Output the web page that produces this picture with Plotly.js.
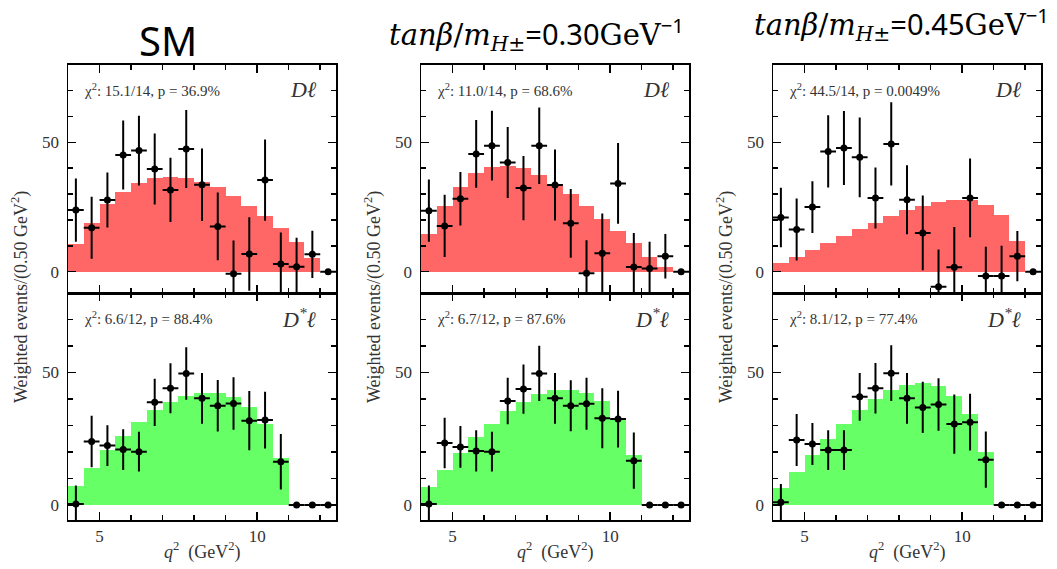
<!DOCTYPE html>
<html><head><meta charset="utf-8">
<script src="https://cdn.plot.ly/plotly-3.0.1.min.js"></script>
<style>html,body{margin:0;padding:0;background:#fff;}#chart{width:1057px;height:569px;}</style>
</head><body><div id="chart"></div>
<script>
// q^2 bin centres (GeV^2), bin width 0.50 GeV^2
const q2 = [4.25,4.75,5.25,5.75,6.25,6.75,7.25,7.75,8.25,8.75,9.25,9.75,10.25,10.75,11.25,11.75,12.25];
const binHalfWidth = [0.25,0.25,0.25,0.25,0.25,0.25,0.25,0.25,0.25,0.25,0.25,0.25,0.25,0.25,0.25,0.25,0.25];

// SM
const smDlData  = [23.8,17.0,27.7,45.1,46.8,39.7,31.6,47.4,33.6,17.5,-0.8,6.8,35.4,3.0,1.9,6.7,0];
const smDlErr   = [12.2,12.0,10.6,13.3,13.5,13.7,12.4,15.1,14.0,13.1,12.9,14.2,15.7,12.1,11.2,9.1,0];
const smDlHist  = [10.8,18.7,26.0,30.9,34.1,36.3,36.6,36.2,34.8,32.6,29.1,25.5,21.5,16.8,11.5,5.2,0];
const smDslData = [0.4,23.9,22.4,20.9,20.1,38.7,44.0,49.6,40.2,37.4,38.3,31.8,32.0,16.3,0,0,0];
const smDslErr  = [7.0,9.7,7.7,7.7,7.5,8.9,9.4,9.9,9.6,9.7,9.9,11.2,10.7,10.5,0,0,0];
const smDslHist = [7.3,14.1,20.7,26.1,31.4,35.8,38.9,41.1,42.3,42.1,40.7,37.1,30.4,17.6,0,0,0];

// tanb/mH = 0.30
const h30DlData  = [23.6,17.7,28.2,45.5,48.7,42.2,32.3,48.7,33.5,18.7,-0.6,7.1,34.1,1.8,1.2,6.0,0];
const h30DlErr   = [12.0,12.0,10.3,13.1,13.5,13.7,12.4,14.8,13.7,13.3,12.8,15.4,15.6,13.2,10.4,8.6,0];
const h30DlHist  = [14.5,25.3,32.7,38.1,40.4,41.0,40.0,37.3,34.0,29.9,25.5,20.5,15.8,10.9,5.8,1.9,0];
const h30DslData = [0.4,23.4,21.9,20.4,20.1,39.2,43.7,49.6,40.2,37.4,38.2,32.7,32.4,16.7,0,0,0];
const h30DslErr  = [7.0,9.5,7.9,7.8,7.5,8.8,9.3,10.4,9.6,9.6,9.8,11.3,10.7,10.6,0,0,0];
const h30DslHist = [6.9,13.2,19.5,25.5,30.5,35.4,38.7,41.8,43.2,43.5,42.1,39.2,32.4,18.8,0,0,0];

// tanb/mH = 0.45
const h45DlData  = [20.9,16.3,25.0,46.5,47.8,44.2,28.5,49.4,27.8,15.0,-5.8,1.7,28.5,-1.7,-1.7,6.0,0];
const h45DlErr   = [11.5,12.0,10.0,14.0,14.3,15.4,11.8,16.1,13.3,14.4,14.4,15.6,15.2,11.3,11.7,9.7,0];
const h45DlHist  = [3.2,5.8,8.3,11.2,13.7,16.4,18.8,21.4,23.7,25.4,26.9,27.8,27.6,25.9,22.1,11.8,0];
const h45DslData = [1.0,24.5,23.0,20.7,20.7,40.8,44.0,49.7,40.2,36.8,37.9,30.5,31.2,17.1,0,0,0];
const h45DslErr  = [6.9,9.8,7.9,7.5,7.5,9.0,9.5,10.5,9.6,9.7,9.9,11.2,10.7,10.6,0,0,0];
const h45DslHist = [6.3,12.4,18.8,25.0,30.7,35.8,40.0,43.2,45.2,45.9,44.8,41.2,34.2,20.1,0,0,0];

const mathSpan = "<span style=\"font-family:'DejaVu Serif'\"><i>tanβ</i>/<i>m</i><sub><i>H</i>±</sub></span>";
const geV = "<span style=\"font-family:'DejaVu Serif'\">GeV</span>";
const columnTitles = ["SM",
  mathSpan + '=0.30' + geV + '<sup>−1</sup>',
  mathSpan + '=0.45' + geV + '<sup>−1</sup>'];
const chiTop = ["χ<sup>2</sup>: 15.1/14, p = 36.9%", "χ<sup>2</sup>: 11.0/14, p = 68.6%", "χ<sup>2</sup>: 44.5/14, p = 0.0049%"];
const chiBot = ["χ<sup>2</sup>: 6.6/12, p = 88.4%", "χ<sup>2</sup>: 6.7/12, p = 87.6%", "χ<sup>2</sup>: 8.1/12, p = 77.4%"];
const chanTop = "Dℓ";
const chanBot = "D<sup>*</sup>ℓ";
const yTitle = "Weighted events/(0.50 GeV<sup>2</sup>)";
const xTitle = "<i>q</i><sup>2</sup>  (GeV<sup>2</sup>)";

const panels = [
  {dl:[smDlData,smDlErr,smDlHist], ds:[smDslData,smDslErr,smDslHist]},
  {dl:[h30DlData,h30DlErr,h30DlHist], ds:[h30DslData,h30DslErr,h30DslHist]},
  {dl:[h45DlData,h45DlErr,h45DlHist], ds:[h45DslData,h45DslErr,h45DslHist]}
];

const W = 1057, H = 569;
const colPx = [[68,336],[421,689],[773,1041]];
const rowPx = [[64.7,293.3],[293.3,520]];
const yRanges = [[-8.35,80],[-5.65,79.8]];
const fills = ["#ff6666","#66ff66"];
const serif = "Liberation Serif";
const txtCol = "#333";

const traces = [];
const layout = {
  width: W, height: H, margin:{l:0,r:0,t:0,b:0},
  paper_bgcolor:"#fff", plot_bgcolor:"#fff",
  showlegend:false, bargap:0, barmode:"overlay",
  annotations:[]
};

panels.forEach((p, c) => {
  [p.dl, p.ds].forEach((set, r) => {
    const k = c*2 + r + 1;
    const xa = "x"+k, ya = "y"+k;
    traces.push({type:"bar", x:q2, y:set[2], width:0.5, xaxis:xa, yaxis:ya,
      marker:{color:fills[r], line:{width:0}}, hoverinfo:"skip"});
    traces.push({type:"scatter", mode:"markers", x:q2, y:set[0], xaxis:xa, yaxis:ya,
      marker:{color:"#000", size:7},
      error_y:{type:"data", array:set[1], visible:true, color:"#000", thickness:2, width:0},
      error_x:{type:"data", array:binHalfWidth, visible:true, color:"#000", thickness:2, width:0}});
    const axBase = {showline:true, linecolor:"#000", linewidth:1.5, mirror:"allticks",
      ticks:"inside", tickwidth:1.5, tickcolor:"#000", showgrid:false, zeroline:false,
      tickfont:{family:serif, size:17, color:txtCol}};
    layout["xaxis"+k] = Object.assign({}, axBase, {
      domain:[colPx[c][0]/W, colPx[c][1]/W], range:[4.0,12.5], anchor:ya,
      tick0:0, dtick:5, ticklen:8, showticklabels: r===1,
      minor:{dtick:1, tick0:0, ticklen:5, ticks:"inside", tickwidth:1.5, tickcolor:"#000"}});
    layout["yaxis"+k] = Object.assign({}, axBase, {
      domain:[1-rowPx[r][1]/H, 1-rowPx[r][0]/H], range:yRanges[r], anchor:xa,
      tick0:0, dtick:50, ticklen:8, ticklabelstandoff:4,
      minor:{dtick:10, tick0:0, ticklen:5, ticks:"inside", tickwidth:1.5, tickcolor:"#000"}});
    layout.annotations.push({xref:"paper", yref:"paper", x:(colPx[c][0]+14)/W, y:1-(rowPx[r][0]+25)/H,
      xanchor:"left", yanchor:"middle", showarrow:false, text: r===0?chiTop[c]:chiBot[c],
      font:{family:serif, size:15, color:txtCol}});
    layout.annotations.push({xref:"paper", yref:"paper", x:(colPx[c][1]-17)/W, y:1-(rowPx[r][0]+25)/H,
      xanchor:"right", yanchor:"middle", showarrow:false, text: "<i>"+(r===0?chanTop:chanBot)+"</i>",
      font:{family:serif, size:22, color:txtCol}});
  });
  layout.annotations.push({xref:"paper", yref:"paper", x:(colPx[c][0]-48)/W, y:1-297/H,
    xanchor:"center", yanchor:"middle", showarrow:false, textangle:-90, text:yTitle,
    font:{family:serif, size:18, color:txtCol}});
  layout.annotations.push({xref:"paper", yref:"paper", x:(colPx[c][0]+colPx[c][1])/2/W, y:1-551/H,
    xanchor:"center", yanchor:"middle", showarrow:false, text:xTitle,
    font:{family:serif, size:18, color:txtCol}});
});

layout.annotations.push({xref:"paper", yref:"paper", x:168/W, y:1-40/H, xanchor:"center", yanchor:"middle",
  showarrow:false, text:columnTitles[0], font:{family:"Noto Sans", size:40, color:"#000"}});
layout.annotations.push({xref:"paper", yref:"paper", x:536/W, y:1-33/H, xanchor:"center", yanchor:"middle",
  showarrow:false, text:columnTitles[1], font:{family:"Noto Sans", size:29, color:"#000"}});
layout.annotations.push({xref:"paper", yref:"paper", x:901/W, y:1-23/H, xanchor:"center", yanchor:"middle",
  showarrow:false, text:columnTitles[2], font:{family:"Noto Sans", size:29, color:"#000"}});

Plotly.newPlot("chart", traces, layout, {staticPlot:true, displayModeBar:false});
</script>
</body></html>
